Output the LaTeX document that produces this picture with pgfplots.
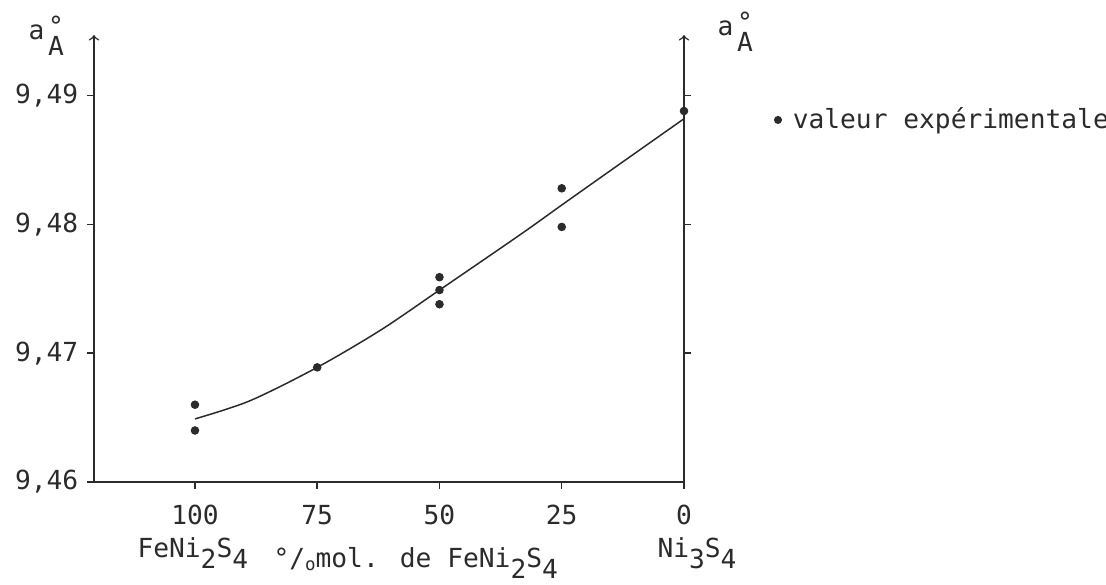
\documentclass[border=0pt]{standalone}
\usepackage{fontspec}
\setmainfont{DejaVu Sans Mono}
\usepackage{pgfplots}
\pgfplotsset{compat=1.18}

\definecolor{ink}{HTML}{2B2B2B}
\newcommand{\dn}[1]{\raisebox{-0.45em}{#1}}

\pgfplotsset{
  common/.style={
    at={(0,0)}, anchor=south west,
    scale only axis, width=236pt, height=178.8pt,
    x dir=reverse, xmin=0, xmax=120.65,
    ymin=9.46, ymax=9.4947,
    tick align=outside, major tick length=2.6pt,
    tick style={ink, line width=0.6pt},
    /pgf/number format/assume math mode=true,
    tick label style={font=\fontsize{10.5}{12}\selectfont, text=ink},
  }
}

\begin{document}
\fontsize{10.5}{12}\selectfont
\begin{tikzpicture}
  \begin{axis}[
    common,
    axis lines*=left,
    axis line style={ink, line width=0.6pt},
    y axis line style={-to},
    xtick={0,25,50,75,100},
    ytick={9.46,9.47,9.48,9.49},
    scaled y ticks=false,
    yticklabel style={/pgf/number format/.cd, fixed, fixed zerofill, precision=2, use comma},
    xticklabel style={yshift=-3pt},
    legend style={draw=none, fill=none, at={(1.139,0.81)}, anchor=west,
      font=\fontsize{10.5}{12}\selectfont, text=ink},
    legend image code/.code={\fill[ink] (0.12cm,0) circle (1.4pt); \path (0.25cm,0);},
  ]
    \addplot[ink, line width=0.6pt, smooth, tension=0.5, forget plot] coordinates {
      (100,9.4649) (88.8,9.4663) (75,9.4689) (62,9.4718) (50,9.4749)
      (33.5,9.4792) (25,9.4815) (15.7,9.4840) (0,9.4882)
    };
    \addplot[only marks, mark=*, mark size=1.5pt, ink] coordinates {
      (100,9.4660) (100,9.4640)
      (75,9.4689)
      (50,9.4759) (50,9.4749) (50,9.4738)
      (25,9.4828) (25,9.4798)
      (0,9.4888)
    };
    \addlegendentry{valeur expérimentale}
  \end{axis}

  % right-hand axis
  \begin{axis}[
    common,
    axis x line=none,
    axis y line*=right,
    y axis line style={ink, line width=0.6pt, -to},
    ytick={9.47,9.48,9.49},
    yticklabels={},
  ]
  \end{axis}

  \begin{scope}[every node/.style={inner sep=0pt, anchor=base west, text=ink,
      font=\fontsize{10.5}{12}\selectfont}]
    % a with lowered angstrom, left and right
    \node at (-26.4pt,177.2pt) {a};
    \node at (-18.6pt,170.6pt) {A};
    \node at (-18.6pt,178.8pt) {°};
    \node at (249.2pt,178.8pt) {a};
    \node at (257.0pt,172.2pt) {A};
    \node at (257.0pt,180.4pt) {°};
    % bottom captions
    \node at (17.2pt,-30pt) {FeNi\dn{2}S\dn{4}};
    \node at (71.6pt,-34pt) {°/\raisebox{-0.15em}{\scriptsize o}mol. de FeNi\dn{2}S\dn{4}};
    \node at (225.2pt,-30pt) {Ni\dn{3}S\dn{4}};
  \end{scope}

  \pgfresetboundingbox
  \useasboundingbox (-37.6pt,-40.8pt) rectangle (404.8pt,192.8pt);
\end{tikzpicture}
\end{document}
